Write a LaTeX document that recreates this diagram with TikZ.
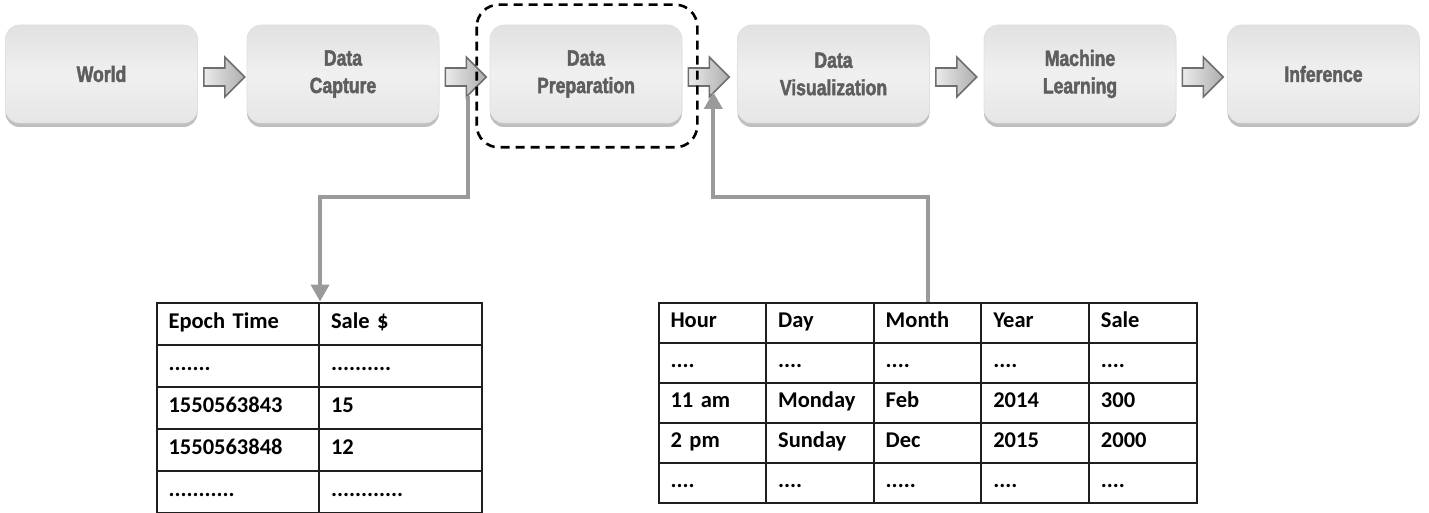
\documentclass[tikz,border=0pt]{standalone}
\usepackage{fontspec}
\setmainfont{Carlito}
\newfontfamily\boxfont[FakeStretch=0.8, FakeBold=2]{Liberation Sans Bold}
\newfontfamily\cellfont{Carlito}
\usetikzlibrary{matrix,shadows,arrows.meta,calc}
\definecolor{boxtext}{HTML}{5E5E5E}
\definecolor{connc}{HTML}{9A9A9A}
\definecolor{barrowedge}{HTML}{6E6E6E}
\definecolor{boxtop}{HTML}{E1E1E1}
\definecolor{boxmid}{HTML}{F0F0F0}
\definecolor{boxbot}{HTML}{E6E6E6}
\tikzset{
  stagebox/.style={rounded corners=14pt, minimum width=192pt, minimum height=98pt,
    inner sep=0pt, top color=boxtop, bottom color=boxbot, middle color=boxmid,
    draw=black!12, line width=0.6pt,
    drop shadow={shadow xshift=0pt, shadow yshift=-4pt, fill=black!45, opacity=0.55},
    font=\boxfont\fontsize{22}{27.5}\selectfont, text=boxtext, align=center},
  barrow/.style={draw=barrowedge, line width=1.6pt, left color=black!8, right color=black!32},
  gconn/.style={draw=connc, line width=4pt, -{Triangle[length=17pt,width=18pt]}},
  dashbox/.style={draw=black, line width=2.6pt, dash pattern=on 9pt off 6pt, rounded corners=22pt},
  tcell/.style={draw=black!88, line width=2pt, inner xsep=12pt, inner ysep=0pt,
    text height=15pt, text depth=5pt, align=left, anchor=center,
    font=\cellfont\bfseries\fontsize{22.5}{26}\selectfont},
}
\newcommand\blockarrow[2]{%
  \path (#2.east) ++(6,3) coordinate (#1);
  \draw[barrow] (#1) ++(0,-9) -- ++(21,0) -- ++(0,-11) -- ++(20,20) -- ++(-20,20) -- ++(0,-11) -- ++(-21,0) -- cycle;
}
\begin{document}
\begin{tikzpicture}[x=1pt,y=-1pt]
\useasboundingbox (0,0) rectangle (1429,513);
\fill[white] (0,0) rectangle (1429,513);

\node[stagebox] (world) at (101.5,74) {World};
\node[stagebox] (capture) at (343,74) {Data\\Capture};
\node[stagebox] (prep) at (586,74) {Data\\Preparation};
\node[stagebox] (vis) at (833.5,74) {Data\\Visualization};
\node[stagebox] (ml) at (1080,74) {Machine\\Learning};
\node[stagebox] (inf) at (1323.5,74) {Inference};

\blockarrow{a1}{world}
\blockarrow{a2}{capture}
\blockarrow{a3}{prep}
\blockarrow{a4}{vis}
\blockarrow{a5}{ml}

\draw[dashbox] ($(prep.north west)+(-13,-20)$) rectangle ($(prep.south east)+(15,24)$);

\matrix (t1) [matrix of nodes, anchor=north west, row sep=-2pt, column sep=-2pt,
  nodes={tcell, text width=138.5pt, minimum height=42pt}] at (152,298) {
  Epoch Time & Sale \$ \\
  ....... & .......... \\
  1550563843 & 15 \\
  1550563848 & 12 \\
  ........... & ............ \\
};

\matrix (t2) [matrix of nodes, anchor=north west, row sep=-2pt, column sep=-2pt,
  nodes={tcell, text width=83.6pt, minimum height=40pt}] at (654,298) {
  Hour & Day & Month & Year & Sale \\
  .... & .... & .... & .... & .... \\
  11 am & Monday & Feb & 2014 & 300 \\
  2 pm & Sunday & Dec & 2015 & 2000 \\
  .... & .... & ..... & .... & .... \\
};

\coordinate (c1) at ($(a2)+(23,19)$);
\coordinate (c2) at ($(a3)+(25,15)$);
\draw[gconn] (c1) -- ++(0,101) -| (t1-1-1.north east);
\draw[gconn] (t2-1-3.north) -- ++(0,-105) -| (c2);
\end{tikzpicture}
\end{document}
